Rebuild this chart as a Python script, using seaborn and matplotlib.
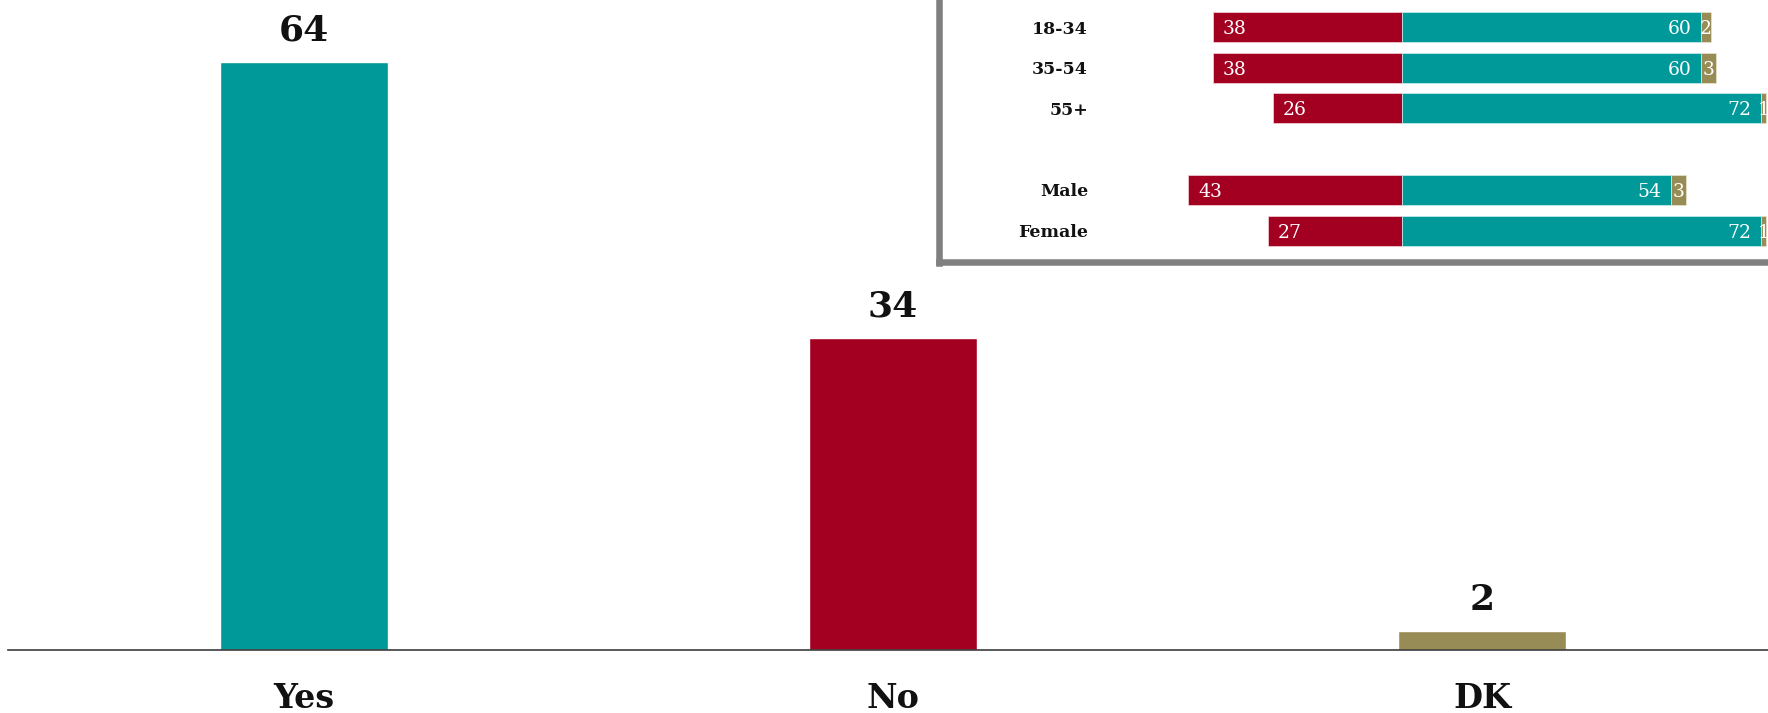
import matplotlib
matplotlib.use('Agg')
import matplotlib.pyplot as plt
import seaborn as sns

# -----------------------------
# Data
# -----------------------------
answers = ["Yes", "No", "DK"]
shares = [64, 34, 2]

groups = ["18-34", "35-54", "55+", "Male", "Female"]
yes_by_group = [60, 60, 72, 54, 72]
no_by_group = [38, 38, 26, 43, 27]
dk_by_group = [2, 3, 1, 3, 1]

# colours
c_yes = "#009999"
c_no = "#A30021"
c_dk = "#978C55"

# -----------------------------
# Style
# -----------------------------
sns.set_theme(style="white")
plt.rcParams['font.family'] = ['DejaVu Serif', 'DejaVu Sans']

W, H = 1768, 713
fig = plt.figure(figsize=(W / 100, H / 100), dpi=100)

# main axes: baseline at y=649.5 px, starts at x=8 px
ax = fig.add_axes([8 / W, (H - 649.5) / H, 1 - 8 / W, 649.5 / H])

sns.barplot(x=answers, y=shares, hue=answers,
            palette=[c_yes, c_no, c_dk], width=0.285,
            saturation=1, legend=False, ax=ax)

ax.set_xlim(-0.5025, 2.4856)
ax.set_ylim(0, 70.79)
ax.set_yticks([])
ax.set_xlabel("")
ax.set_ylabel("")
for s in ["left", "top", "right"]:
    ax.spines[s].set_visible(False)
ax.spines["bottom"].set_color("#3c3c3c")
ax.spines["bottom"].set_linewidth(1.2)

ax.tick_params(axis="x", length=0, pad=41.8)
ax.set_xticks(range(len(answers)), labels=answers)
for lab in ax.get_xticklabels():
    lab.set_fontsize(24)
    lab.set_fontweight("bold")
    lab.set_color("#111111")
    lab.set_va("baseline")

for cont in ax.containers:
    texts = ax.bar_label(cont, padding=15.5, fontsize=26,
                         fontweight="bold", color="#111111")
    for t in texts:
        t.set_va("baseline")

# -----------------------------
# Inset: diverging bars by group
# -----------------------------
ins_left, ins_right = 939, 1830
ins_top, ins_bottom = -60, 262.5
iax = fig.add_axes([ins_left / W, (H - ins_bottom) / H,
                    (ins_right - ins_left) / W, (ins_bottom - ins_top) / H])
iax.set_facecolor("white")

rows = [0, 1, 2, 4, 5]
bar_h = 0.737

iax.barh(rows, [-v for v in no_by_group], height=bar_h, color=c_no,
         edgecolor="#f4d8dc", linewidth=0.5)
iax.barh(rows, yes_by_group, height=bar_h, color=c_yes,
         edgecolor="#cfeeee", linewidth=0.5)
iax.barh(rows, dk_by_group, left=yes_by_group, height=bar_h, color=c_dk,
         edgecolor="#ece6cc", linewidth=0.5)

for r, g, y, n, d in zip(rows, groups, yes_by_group, no_by_group, dk_by_group):
    iax.text(-63.1, r, g, ha="right", va="center_baseline",
             fontsize=12.5, fontweight="bold", color="#111111")
    iax.text(-n + 2.0, r, str(n), ha="left", va="center_baseline",
             fontsize=13.5, color="white")
    iax.text(y - 2.0, r, str(y), ha="right", va="center_baseline",
             fontsize=13.5, color="white")
    iax.text(y + d / 2, r, str(d), ha="center", va="center_baseline",
             fontsize=13.5, color="white")

iax.set_xlim(-93.03, 85.88)
iax.set_ylim(5.786, -2.14)
iax.set_xticks([])
iax.set_yticks([])
for s in iax.spines.values():
    s.set_visible(True)
    s.set_color("#808080")
    s.set_linewidth(4.7)

fig.savefig("out.png", dpi=100)
plt.close(fig)
